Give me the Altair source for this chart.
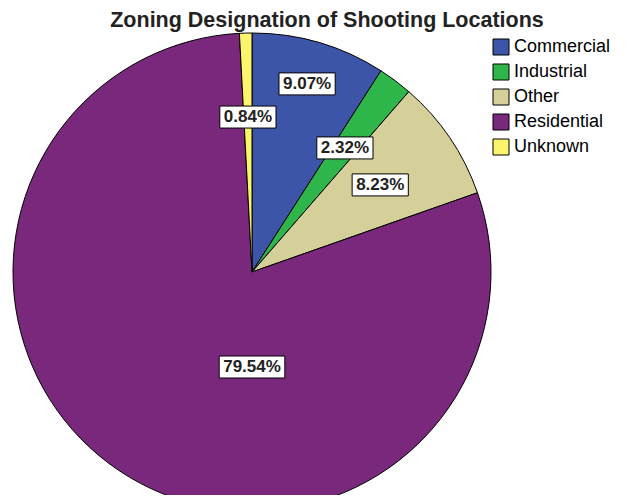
import altair as alt
import pandas as pd

categories = ["Commercial", "Industrial", "Other", "Residential", "Unknown"]
percents = [9.07, 2.32, 8.23, 79.54, 0.84]
colors = ["#3D55A9", "#2FB64A", "#D5CF99", "#7A287B", "#FAF56B"]
title_text = "Zoning Designation of Shooting Locations"

df = pd.DataFrame({
    "category": categories,
    "value": percents,
    "order": list(range(len(categories))),
})

FONT = "Liberation Sans"
CX, CY, R = 244, 264, 239

base = alt.Chart(df)

pie = base.mark_arc(outerRadius=R, stroke="black", strokeWidth=1).encode(
    theta=alt.Theta("value:Q", stack=True),
    order=alt.Order("order:Q"),
    x=alt.value(CX),
    y=alt.value(CY),
    color=alt.Color(
        "category:N",
        scale=alt.Scale(domain=categories, range=colors),
        legend=alt.Legend(
            title=None,
            orient="none",
            legendX=484,
            legendY=30,
            symbolType="square",
            symbolSize=256,
            symbolStrokeColor="black",
            symbolStrokeWidth=1,
            symbolOpacity=1,
            labelFont=FONT,
            labelFontSize=18,
            labelColor="black",
            labelOffset=4,
            rowPadding=5,
        ),
    ),
)

labels_base = (
    base.transform_window(cum="sum(value)", sort=[alt.SortField("order")])
    .transform_joinaggregate(total="sum(value)")
    .transform_calculate(
        mid="(datum.cum - datum.value / 2) / datum.total * 2 * PI",
    )
    .transform_calculate(
        ang="datum.category == 'Residential' ? PI : datum.mid",
        rr="datum.category == 'Commercial' ? 196 : (datum.category == 'Residential' ? 95 : 155)",
        label="format(datum.value, '.2f') + '%'",
    )
    .transform_calculate(
        lx=f"{CX} + datum.rr * sin(datum.ang)",
        ly=f"{CY} - datum.rr * cos(datum.ang)",
        bw="17 * (1.167 + 0.556 * (length(datum.label) - 2)) + 8",
    )
    .transform_calculate(
        x1="datum.lx - datum.bw / 2",
        x2="datum.lx + datum.bw / 2",
        y1="datum.ly - 11",
        y2="datum.ly + 11",
    )
)

boxes = labels_base.mark_rect(fill="white", stroke="black", strokeWidth=1).encode(
    x=alt.X("x1:Q", scale=None, axis=None),
    x2="x2:Q",
    y=alt.Y("y1:Q", scale=None, axis=None),
    y2="y2:Q",
)

texts = labels_base.mark_text(
    font=FONT, fontSize=17, fontWeight="bold", color="#222222",
    align="center", baseline="middle",
).encode(
    x=alt.X("lx:Q", scale=None, axis=None),
    y=alt.Y("ly:Q", scale=None, axis=None),
    text="label:N",
)

title = alt.Chart(pd.DataFrame({"t": [title_text]})).mark_text(
    font=FONT, fontSize=21.5, fontWeight="bold", color="#222222",
    align="center", baseline="alphabetic",
).encode(
    x=alt.value(319),
    y=alt.value(19),
    text="t:N",
)

chart = (
    alt.layer(pie, boxes, texts, title)
    .properties(
        width=613,
        height=487,
        autosize=alt.AutoSizeParams(type="none"),
        padding=0,
    )
    .configure_view(stroke=None)
)

chart.save("out.html", embed_options={"renderer": "svg", "actions": False})
